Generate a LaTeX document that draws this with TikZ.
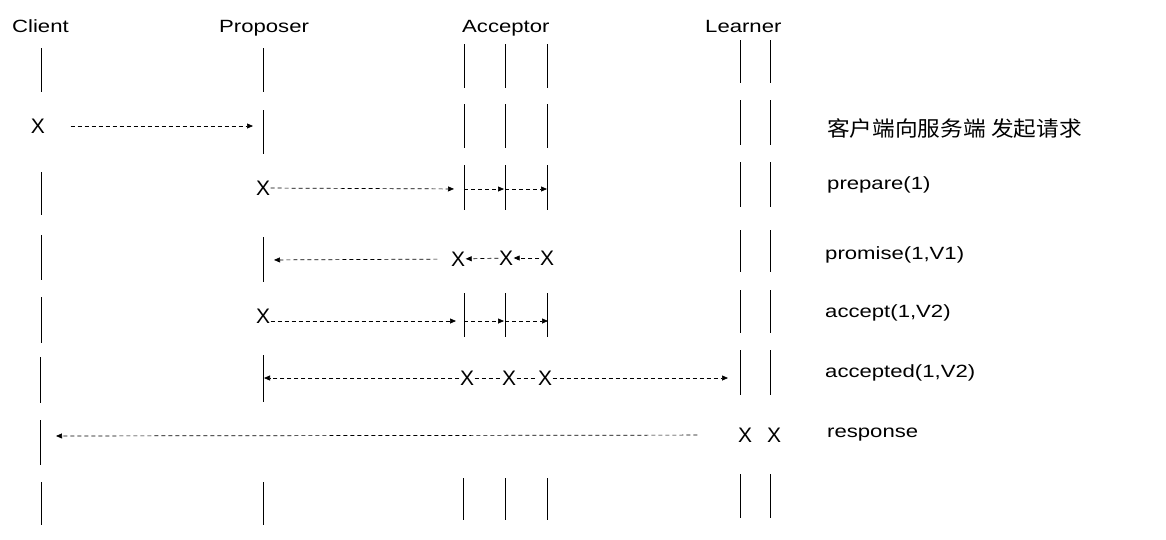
\documentclass[tikz,border=0pt]{standalone}
\usepackage{fontspec}
\setmainfont{Liberation Sans}
\newfontfamily\labelfont{Liberation Sans}[FakeStretch=1.25]
\newfontfamily\cjkfont{Noto Sans CJK SC}[FakeStretch=1.08]
\usetikzlibrary{arrows.meta}

\begin{document}
\begin{tikzpicture}[x=1pt,y=-1pt,
		lbl/.style={font=\labelfont\fontsize{17.7}{20}\selectfont, inner sep=0pt, anchor=base west},
		xmark/.style={font=\fontsize{21}{24}\selectfont, inner sep=0.5pt},
		life/.style={line width=0.9pt},
		link/.style={line width=0.7pt, dash pattern=on 4pt off 3pt},
		msg/.style={link, -{Triangle[length=6pt,width=5pt]}}
		]
		\useasboundingbox (0,0) rectangle (1166,539);
		% roles
		\node[lbl] (client) at (12,32) {Client};
		\node[lbl] (proposer) at (219,32) {Proposer};
		\node[lbl] (acceptor) at (462,32) {Acceptor};
		\node[lbl] (learner) at (705,32) {Learner};
		% lifelines
		\foreach \x/\ya/\yb in {41/48/92, 263/48/92, 464/44/88, 505/44/88, 547/44/88, 740/40/83, 770/40/83,
			263/110/154, 464/104/148, 505/104/148, 547/104/148, 740/100/145, 770/100/145,
			41/172/215, 464/165/210, 505/165/210, 547/165/210, 740/162/207, 770/162/207,
			41/235/280, 263/237/282, 740/230/272, 770/230/272,
			41/297/343, 464/293/337, 505/293/337, 547/293/337, 740/290/333, 770/290/333,
			40/357/403, 263/355/402, 740/350/395, 770/350/395,
			40/420/465,
			41/482/525, 263/482/525, 463/478/520, 505/478/520, 547/478/520, 740/474/518, 770/474/518}
			\draw[life] (\x,\ya) -- (\x,\yb);
		% step labels
		\node[lbl, font=\cjkfont\fontsize{21}{24}\selectfont] (s1) at (827,136) {客户端向服务端 发起请求};
		\node[lbl] (s2) at (827,189) {prepare(1)};
		\node[lbl] (s3) at (825,259) {promise(1,V1)};
		\node[lbl] (s4) at (825,317) {accept(1,V2)};
		\node[lbl] (s5) at (825,377) {accepted(1,V2)};
		\node[lbl] (s6) at (827,437) {response};
		% request
		\node[xmark] (cx) at (38,126) {X};
		\coordinate (p1) at (263,126);
		\draw[msg, shorten <=25pt, shorten >=10pt] (cx) -- (p1);
		% prepare
		\node[xmark] (px2) at (263,188) {X};
		\coordinate (a1p) at (464,189);
		\coordinate (a2p) at (505,189);
		\coordinate (a3p) at (547,189);
		\draw[msg, shorten >=10pt] (px2) -- (a1p);
		\draw[msg, shorten >=1pt] (a1p) -- (a2p);
		\draw[msg] (a2p) -- (a3p);
		% promise
		\node[xmark] (ax1) at (458,259) {X};
		\node[xmark] (ax2) at (506,258) {X};
		\node[xmark] (ax3) at (547,258) {X};
		\coordinate (p3) at (263,260);
		\draw[msg] (ax3) -- (ax2);
		\draw[msg] (ax2) -- (ax1);
		\draw[msg, shorten <=13pt, shorten >=11pt] (ax1) -- (p3);
		% accept
		\node[xmark] (px4) at (263,316) {X};
		\coordinate (a1a) at (464,321);
		\coordinate (a2a) at (505,321);
		\coordinate (a3a) at (548,321);
		\draw[msg, shorten >=8pt] (px4.east |- a1a) -- (a1a);
		\draw[msg, shorten >=1pt] (a1a) -- (a2a);
		\draw[msg] (a2a) -- (a3a);
		% accepted
		\node[xmark] (ay1) at (467,378) {X};
		\node[xmark] (ay2) at (509,378) {X};
		\node[xmark] (ay3) at (545,378) {X};
		\coordinate (p5) at (264,378);
		\coordinate (l5) at (740,378);
		\draw[link] (ay1) -- (ay2) -- (ay3);
		\draw[msg] (ay1) -- (p5);
		\draw[msg, shorten >=12pt] (ay3) -- (l5);
		% response
		\node[xmark] (lx1) at (745,435) {X};
		\node[xmark] (lx2) at (774,435) {X};
		\coordinate (c6) at (40,436);
		\draw[msg, shorten <=40pt, shorten >=16pt] (lx1) -- (c6);
\end{tikzpicture}
\end{document}
